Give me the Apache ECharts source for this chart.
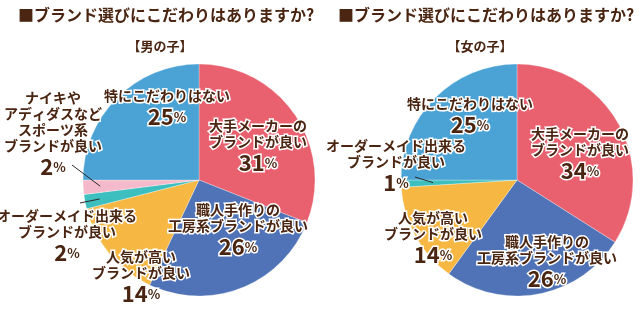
<!DOCTYPE html>
<html>
<head>
<meta charset="utf-8">
<script src="https://cdn.jsdelivr.net/npm/echarts@6/dist/echarts.min.js"></script>
<style>
html, body { margin: 0; background: #fff; }
#main { width: 640px; height: 311px; }
</style>
</head>
<body>
<div id="main"></div>
<script>
// データ
const titleText = '■ブランド選びにこだわりはありますか?';
const boyTitle = '【男の子】';
const girlTitle = '【女の子】';

const boyNames = ['大手メーカーの\nブランドが良い', '職人手作りの\n工房系ブランドが良い', '人気が高い\nブランドが良い',
    'オーダーメイド出来る\nブランドが良い', 'ナイキや\nアディダスなど\nスポーツ系\nブランドが良い', '特にこだわりはない'];
const boyValues = [31, 26, 14, 2, 2, 25];

const girlNames = ['大手メーカーの\nブランドが良い', '職人手作りの\n工房系ブランドが良い', '人気が高い\nブランドが良い',
    'オーダーメイド出来る\nブランドが良い', '特にこだわりはない'];
const girlValues = [34, 26, 14, 1, 25];

// 見た目
const boyColors = ['#e9606f', '#4f73b6', '#f7b843', '#3cbfbe', '#f4bacb', '#4ba2d5'];
const girlColors = ['#e9606f', '#4f73b6', '#f7b843', '#3cbfbe', '#4ba2d5'];
const textColor = '#4a2511';
const font = '"Noto Sans CJK JP", "Noto Sans", sans-serif';

// ラベルの位置 (中心)
const boyLabelPos = [[258, 147], [238, 231], [141, 278], [67, 237], [53, 135], [167, 109]];
const girlLabelPos = [[580, 155], [547, 263], [433, 239], [396, 167], [470, 117]];
// 引き出し線: [dataIndex, 内側への距離, 線の端]
const boyLeads = [[3, 15, [80, 203]], [4, 17, [72, 165]]];
const girlLeads = [[3, 32, [415, 177]]];

let chart = echarts.init(document.getElementById('main'));

// 色付きの扇形
function makeData(names, values, colors) {
    return names.map(function (n, i) {
        return { name: n, value: values[i], itemStyle: { color: colors[i] } };
    });
}

// ラベル用（透明な扇形、線を上に描く）
function makeLabelData(names, values, leads) {
    return names.map(function (n, i) {
        let hasLead = leads.some(function (l) { return l[0] === i; });
        return {
            name: n,
            value: values[i],
            itemStyle: { color: 'rgba(0,0,0,0)' },
            labelLine: { show: hasLead }
        };
    });
}

function makeLayout(pos, leads) {
    return function (params) {
        let p = pos[params.dataIndex];
        let res = { x: p[0], y: p[1], align: 'center', verticalAlign: 'middle' };
        let lead = leads.find(function (l) { return l[0] === params.dataIndex; });
        if (lead && params.labelLinePoints) {
            let p0 = params.labelLinePoints[0];
            let p1 = params.labelLinePoints[1];
            let dx = p0[0] - p1[0], dy = p0[1] - p1[1];
            let len = Math.sqrt(dx * dx + dy * dy) || 1;
            let inner = [p0[0] + dx / len * lead[1], p0[1] + dy / len * lead[1]];
            let mid = [(inner[0] + lead[2][0]) / 2, (inner[1] + lead[2][1]) / 2];
            res.labelLinePoints = [inner, mid, lead[2]];
        }
        return res;
    };
}

const labelStyle = {
    show: true,
    position: 'outside',
    color: textColor,
    fontFamily: font,
    fontWeight: 'bold',
    fontSize: 14,
    lineHeight: 16,
    textBorderColor: '#fff',
    textBorderWidth: 3,
    formatter: function (p) {
        return p.name + '\n{n|' + p.value + '}{p|%}';
    },
    rich: {
        n: { fontSize: 22, lineHeight: 26, fontWeight: 'bold', fontFamily: font, color: textColor, textBorderColor: '#fff', textBorderWidth: 3 },
        p: { fontSize: 13, lineHeight: 26, fontWeight: 'bold', fontFamily: font, color: textColor, textBorderColor: '#fff', textBorderWidth: 3 }
    }
};

function makePie(center, data) {
    return {
        type: 'pie',
        center: center,
        radius: 116,
        startAngle: 90,
        clockwise: true,
        silent: true,
        z: 2,
        itemStyle: { borderColor: '#fff', borderWidth: 0.3 },
        label: { show: false },
        labelLine: { show: false },
        data: data
    };
}

function makeLabels(center, data, pos, leads) {
    return {
        type: 'pie',
        center: center,
        radius: 116,
        startAngle: 90,
        clockwise: true,
        avoidLabelOverlap: false,
        silent: true,
        z: 5,
        label: labelStyle,
        labelLine: { show: false, smooth: false, lineStyle: { color: '#2a2a2a', width: 1 } },
        labelLayout: makeLayout(pos, leads),
        data: data
    };
}

function titleGraphic(x, y, text, size, align) {
    return {
        type: 'text',
        x: x,
        y: y,
        style: {
            text: text,
            fill: textColor,
            font: 'bold ' + size + 'px ' + font,
            align: align,
            verticalAlign: 'middle'
        }
    };
}

chart.setOption({
    animation: false,
    graphic: [
        titleGraphic(18, 15, titleText, 16, 'left'),
        titleGraphic(338, 15, titleText, 16, 'left'),
        titleGraphic(160, 46, boyTitle, 13, 'center'),
        titleGraphic(480, 46, girlTitle, 13, 'center')
    ],
    series: [
        makePie([199, 180], makeData(boyNames, boyValues, boyColors)),
        makePie([517, 180], makeData(girlNames, girlValues, girlColors)),
        makeLabels([199, 180], makeLabelData(boyNames, boyValues, boyLeads), boyLabelPos, boyLeads),
        makeLabels([517, 180], makeLabelData(girlNames, girlValues, girlLeads), girlLabelPos, girlLeads)
    ]
});
</script>
</body>
</html>
